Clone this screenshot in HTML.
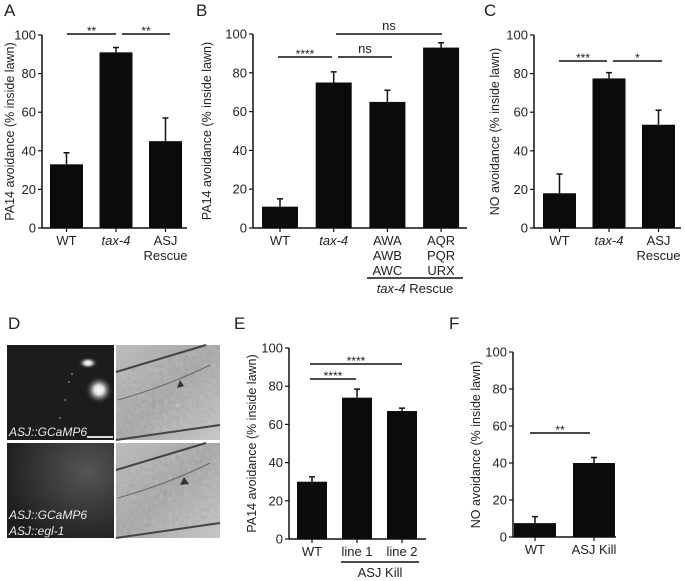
<!DOCTYPE html>
<html><head><meta charset="utf-8"><style>
body{margin:0;background:#fff}
svg{display:block;font-family:"Liberation Sans",Arial,sans-serif}
</style></head><body>
<svg id="fig" width="685" height="581" viewBox="0 0 685 581" xmlns="http://www.w3.org/2000/svg">
<g font-size="17" fill="#222">
<text x="4" y="16">A</text>
<text x="196" y="16">B</text>
<text x="484" y="16">C</text>
<text x="8" y="329">D</text>
<text x="234" y="329">E</text>
<text x="449" y="329">F</text>
</g>
<g>
<defs>
<radialGradient id="glow" cx="0.5" cy="0.5" r="0.5"><stop offset="0" stop-color="#fff"/><stop offset="0.35" stop-color="#ddd"/><stop offset="1" stop-color="#222" stop-opacity="0"/></radialGradient>
<radialGradient id="haze" cx="0.75" cy="0.3" r="0.8"><stop offset="0" stop-color="#555"/><stop offset="1" stop-color="#1e1e1e"/></radialGradient>
<linearGradient id="dic" x1="0" y1="0" x2="1" y2="1"><stop offset="0" stop-color="#bdbdbd"/><stop offset="0.5" stop-color="#a5a5a5"/><stop offset="1" stop-color="#c8c8c8"/></linearGradient>
<filter id="noise" x="0" y="0" width="100%" height="100%">
<feTurbulence type="fractalNoise" baseFrequency="0.25" numOctaves="2" seed="3" result="n"/>
<feColorMatrix type="matrix" values="0.33 0.33 0.33 0 0  0.33 0.33 0.33 0 0  0.33 0.33 0.33 0 0  0 0 0 0.55 0" in="n"/>
</filter>
<clipPath id="worm1"><polygon points="116,372 206,345 220,345 220,425 116,440"/></clipPath>
<clipPath id="worm2"><polygon points="116,470 206,443 220,443 220,523 116,538"/></clipPath>
</defs>
<rect x="7" y="345" width="107" height="95" fill="#1c1c1c"/>
<ellipse cx="88" cy="363" rx="10" ry="6" fill="url(#glow)"/>
<ellipse cx="99" cy="390" rx="14" ry="14" fill="url(#glow)"/>
<g fill="#777"><circle cx="72" cy="374" r="1"/><circle cx="69" cy="382" r="1"/><circle cx="65" cy="400" r="1"/><circle cx="60" cy="418" r="1"/></g>
<rect x="7" y="443" width="107" height="95" fill="url(#haze)"/>
<rect x="116" y="345" width="104" height="95" fill="url(#dic)"/>
<rect x="116" y="443" width="104" height="95" fill="url(#dic)"/>
<rect x="116" y="345" width="104" height="95" fill="#999" filter="url(#noise)" clip-path="url(#worm1)" opacity="0.9"/>
<rect x="116" y="443" width="104" height="95" fill="#999" filter="url(#noise)" clip-path="url(#worm2)" opacity="0.9"/>
<path d="M116 372 L206 345 M116 440 L220 425 M116 470 L206 443 M116 538 L220 523" stroke="#444" stroke-width="2" fill="none"/>
<path d="M118 400 Q170 385 210 365 M118 498 Q170 483 210 463" stroke="#666" stroke-width="1" fill="none"/>
<path d="M177 388 l3 -8 l4 6 z M180 485 l4 -8 l5 7 z" fill="#333"/>
<line x1="87" y1="437" x2="113" y2="437" stroke="#ddd" stroke-width="2"/>
<g font-size="12" font-style="italic" fill="#e8e8e8">
<text x="9" y="436">ASJ::GCaMP6</text>
<text x="9" y="519">ASJ::GCaMP6</text>
<text x="9" y="535">ASJ::egl-1</text>
</g>
</g>
</svg>
<script>
const ticks=["0","20","40","60","80","100"];
const aCats=["WT","tax-4","ASJ|Rescue"];
const aVals=[33,91,45];
const aErr=[6,2.5,12];
const bCats=["WT","tax-4","AWA|AWB|AWC","AQR|PQR|URX"];
const bVals=[11,75,65,93];
const bErr=[4,5.5,6,2.5];
const cCats=["WT","tax-4","ASJ|Rescue"];
const cVals=[18,77.5,53.5];
const cErr=[10,3,7.5];
const eCats=["WT","line 1","line 2"];
const eVals=[30,74,67];
const eErr=[2.5,4.5,1.5];
const fCats=["WT","ASJ Kill"];
const fVals=[7.5,40];
const fErr=[3.5,3];

const NS="http://www.w3.org/2000/svg";
const svg=document.getElementById('fig');
function mk(tag,at,parent,txt){const e=document.createElementNS(NS,tag);for(const k in at)e.setAttribute(k,at[k]);if(txt!==undefined)e.textContent=txt;(parent||svg).appendChild(e);return e;}

function panel(id,cfg,cats,vals,errs){
  const g=mk('g',{});
  
  
  const y=v=>cfg.y0-(v/100)*(cfg.y0-cfg.y100);
  const xc=i=>cfg.bx0+cfg.bw/2+i*cfg.step;
  const ax=mk('line',{x1:cfg.ax,y1:cfg.y100,x2:cfg.ax,y2:cfg.y0,stroke:'#111','stroke-width':1.5},g);
  
  
  const xa=mk('line',{x1:cfg.ax,y1:cfg.y0,x2:cfg.xend,y2:cfg.y0,stroke:'#111','stroke-width':1.5},g);
  
  
  ticks.forEach((t,i)=>{
    const v=+t;const yy=y(v);
    mk('line',{x1:cfg.ax-4,y1:yy,x2:cfg.ax,y2:yy,stroke:'#111','stroke-width':1.2},g);
    const tl=mk('text',{x:cfg.ax-6,y:yy+4.5,'font-size':13,'text-anchor':'end',fill:'#222'},g,t);
    
    
  });
  const yl=mk('text',{x:0,y:0,'font-size':12.5,'text-anchor':'middle',fill:'#222',transform:`translate(${cfg.ylx},${(cfg.y0+cfg.y100)/2}) rotate(-90)`},g,cfg.ylabel);
  
  
  vals.forEach((v,i)=>{
    const x0=cfg.bx0+i*cfg.step;
    const r=mk('rect',{x:x0,y:y(v),width:cfg.bw,height:cfg.y0-y(v),fill:'#0b0b0b'},g);
    
    
    const cx=xc(i),ye=y(v+errs[i]);
    const eb=mk('path',{d:`M${cx} ${y(v)} V${ye} M${cx-3} ${ye} H${cx+3}`,stroke:'#111','stroke-width':1.5,fill:'none'},g);
    
    
    mk('line',{x1:cx,y1:cfg.y0,x2:cx,y2:cfg.y0+4,stroke:'#111','stroke-width':1.2},g);
    cats[i].split('|').forEach((ln,j)=>{
      const it=(ln==='tax-4');
      const t=mk('text',{x:cx,y:cfg.y0+17+j*15,'font-size':13,'text-anchor':'middle',fill:'#222','font-style':it?'italic':'normal'},g,ln);
      
      
    });
  });
  (cfg.sig||[]).forEach(s=>{
    const l=mk('line',{x1:s[0],y1:s[2],x2:s[1],y2:s[2],stroke:'#111','stroke-width':1.5},g);
    
    
    const ns=s[3]==='ns';
    const t=mk('text',{x:(s[0]+s[1])/2,y:s[2]+(ns?-4:1),'font-size':ns?13:12,'text-anchor':'middle',fill:'#222'},g,s[3]);
    
    
  });
  if(cfg.group){const q=cfg.group;
    const l=mk('line',{x1:q[0],y1:q[2],x2:q[1],y2:q[2],stroke:'#111','stroke-width':1.5},g);
    
    
    const t=mk('text',{x:(q[0]+q[1])/2,y:q[2]+15,'font-size':13,'text-anchor':'middle',fill:'#222'},g);
    
    
    if(q[3].startsWith('tax-4')){mk('tspan',{'font-style':'italic'},t,'tax-4');mk('tspan',{},t,q[3].slice(5));}else t.textContent=q[3];
  }
}
panel('panel-a',{ax:42,y0:228,y100:35,xend:187,bx0:50,bw:33,step:49.5,ylx:14,ylabel:'PA14 avoidance (% inside lawn)',
  sig:[[67,116,34,'**'],[122,170,34,'**']]},aCats,aVals,aErr);
panel('panel-b',{ax:253,y0:228,y100:34,xend:467,bx0:262,bw:36,step:53.7,ylx:211,ylabel:'PA14 avoidance (% inside lawn)',
  sig:[[278,332,57,'****'],[338,392,57,'ns'],[336,442,34,'ns']],group:[367,463,278,'tax-4 Rescue']},bCats,bVals,bErr);
panel('panel-c',{ax:534,y0:228,y100:35,xend:681,bx0:543,bw:33,step:49.5,ylx:499,ylabel:'NO avoidance (% inside lawn)',
  sig:[[559,607,61,'***'],[613,662,61,'*']]},cCats,cVals,cErr);
panel('panel-e',{ax:289,y0:539,y100:348,xend:426,bx0:297,bw:30,step:45,ylx:256,ylabel:'PA14 avoidance (% inside lawn)',
  sig:[[310,402,364,'****'],[310,356,379,'****']],group:[341,419,562,'ASJ Kill']},eCats,eVals,eErr);
panel('panel-f',{ax:513,y0:537,y100:352,xend:616,bx0:514,bw:42,step:59,ylx:480,ylabel:'NO avoidance (% inside lawn)',
  sig:[[530,590,433,'**']]},fCats,fVals,fErr);
</script>
</body></html>
